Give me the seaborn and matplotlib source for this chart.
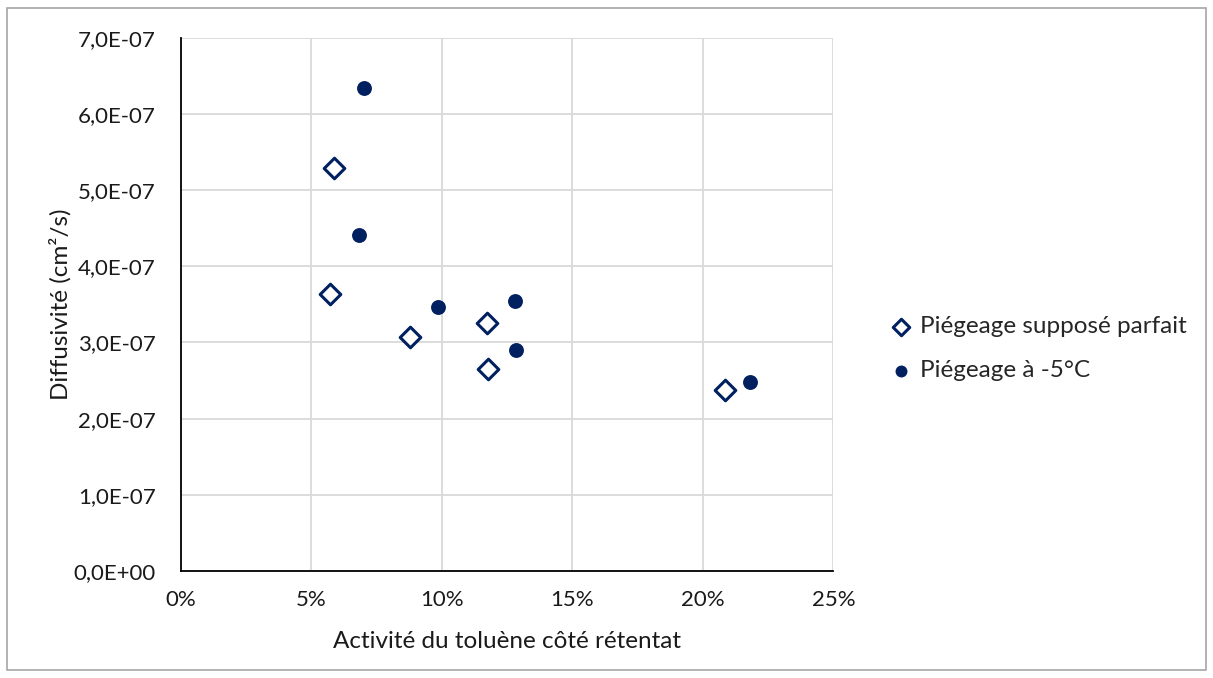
import matplotlib
matplotlib.use("Agg")
import matplotlib.pyplot as plt
from matplotlib.ticker import FuncFormatter, MultipleLocator
from matplotlib.patches import Rectangle
import pandas as pd
import seaborn as sns

# Activité du toluène (fraction) et diffusivité (cm²/s)
parfait_x = [0.0588, 0.0570, 0.0879, 0.1174, 0.1178, 0.2086]
parfait_y = [5.29e-7, 3.64e-7, 3.07e-7, 3.25e-7, 2.65e-7, 2.38e-7]
moins5_x = [0.0702, 0.0682, 0.0987, 0.1279, 0.1283, 0.2181]
moins5_y = [6.34e-7, 4.41e-7, 3.47e-7, 3.55e-7, 2.90e-7, 2.48e-7]

label_parfait = "Piégeage supposé parfait"
label_moins5 = "Piégeage à -5°C"
navy = "#002060"

sns.set_style("white")
plt.rcParams['font.family'] = ['Lato', 'DejaVu Sans']

df_p = pd.DataFrame({'x': parfait_x, 'y': parfait_y})
df_m = pd.DataFrame({'x': moins5_x, 'y': moins5_y})

fig = plt.figure(figsize=(12.13, 6.78), dpi=100)
ax = fig.add_axes([0.149, 0.158, 0.538, 0.786])

sns.scatterplot(data=df_p, x='x', y='y', marker='D', s=110, facecolor='white',
                edgecolor=navy, linewidth=2.2, ax=ax, label=label_parfait, zorder=3)
sns.scatterplot(data=df_m, x='x', y='y', marker='o', s=115, color=navy,
                edgecolor=navy, linewidth=0, ax=ax, label=label_moins5, zorder=3)

ax.set_xlim(0, 0.25)
ax.set_ylim(0, 7e-7)
ax.xaxis.set_major_locator(MultipleLocator(0.05))
ax.yaxis.set_major_locator(MultipleLocator(1e-7))
ax.xaxis.set_major_formatter(FuncFormatter(lambda v, p: f"{v*100:.0f}%"))
ax.yaxis.set_major_formatter(FuncFormatter(lambda v, p: ("%.1E" % v).replace('.', ',')))
ax.grid(True, color='#d9d9d9', linewidth=1.3)
ax.set_axisbelow(True)
for side in ['top', 'right']:
    ax.spines[side].set_visible(False)
for side in ['left', 'bottom']:
    ax.spines[side].set_color('black')
    ax.spines[side].set_linewidth(1.3)
ax.tick_params(axis='both', length=0, labelsize=16, colors='#1a1a1a')
ax.tick_params(axis='y', pad=18)
ax.tick_params(axis='x', pad=14)

ax.set_xlabel("Activité du toluène côté rétentat", fontsize=17.5, color='#1a1a1a')
ax.set_ylabel("Diffusivité (cm²/s)", fontsize=17.5, color='#1a1a1a')
ax.yaxis.set_label_coords(-0.168, 0.5)
ax.xaxis.set_label_coords(0.5, -0.112)

ax.legend(loc='center left', bbox_to_anchor=(1.067, 0.417), frameon=False,
          fontsize=17.5, handlelength=1.0, handletextpad=0.25, labelspacing=0.95,
          borderpad=0, markerscale=0.8)

fig.patches.append(Rectangle((0.006, 0.012), 0.988, 0.976, transform=fig.transFigure,
                             fill=False, edgecolor='#a6a6a6', linewidth=1.2))

fig.savefig("out.png", dpi=100)
